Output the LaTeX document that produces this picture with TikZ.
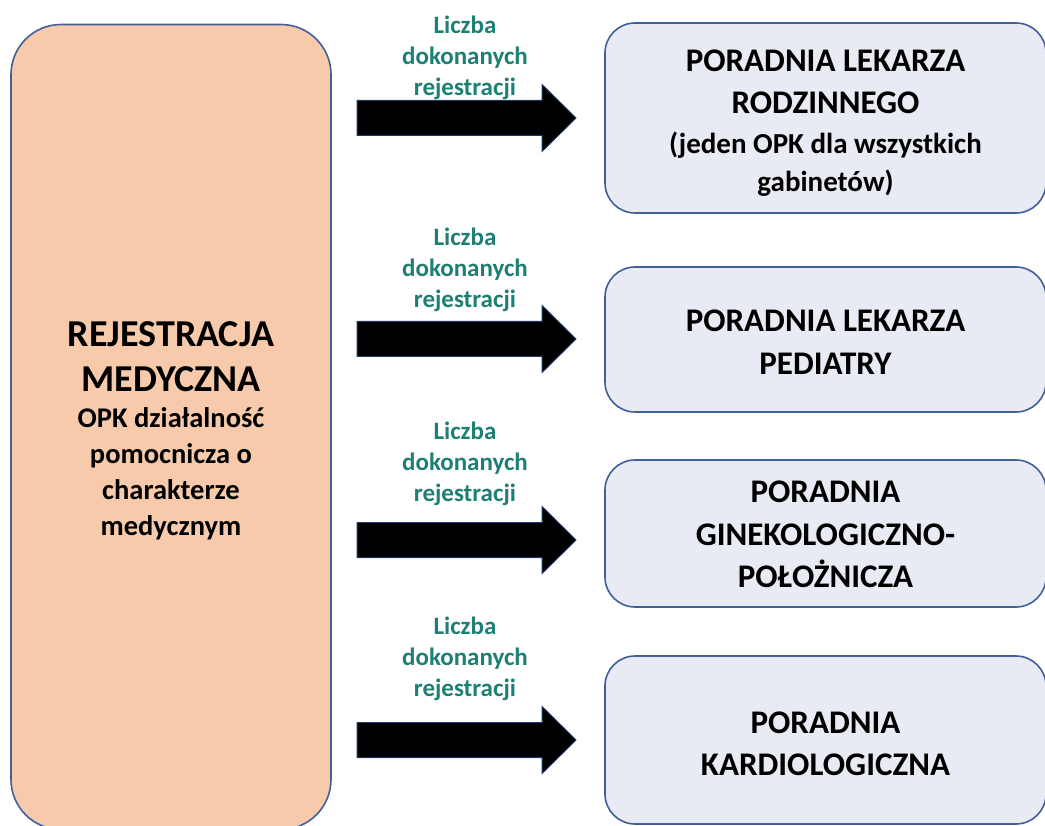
\documentclass[tikz,border=0pt]{standalone}
\usepackage{fontspec}
\setmainfont{Carlito}
\definecolor{peach}{HTML}{F7CAAB}
\definecolor{boxline}{HTML}{41609A}
\definecolor{lightbox}{HTML}{E8EAF4}
\definecolor{labelteal}{HTML}{1E7F74}
\definecolor{arrowline}{HTML}{1F3864}
\begin{document}
\begin{tikzpicture}[x=1pt,y=-1pt,
  leftbox/.style={draw=boxline, line width=1.6pt, fill=peach, rounded corners=50pt,
    minimum width=320pt, minimum height=805pt, align=center, inner sep=0pt},
  lefttext/.style={align=center, inner sep=0pt, font=\bfseries\fontsize{28.5}{36}\selectfont},
  rightbox/.style={draw=boxline, line width=1.6pt, fill=lightbox, rounded corners=30pt,
    minimum width=441pt, inner sep=0pt},
  boxtext/.style={align=center, inner sep=0pt, font=\bfseries\fontsize{33}{42.5}\selectfont},
  lbl/.style={text=labelteal, font=\bfseries\fontsize{25}{31}\selectfont, align=center, inner sep=0pt},
  barrow/.style={fill=black, draw=arrowline, line width=1pt, line join=miter}]
\useasboundingbox (0,0) rectangle (1045,826);

\node[leftbox] (reg) at (171,427) {};
\node[lefttext] (regt) at ([yshift=-4pt]reg.center) {{\fontsize{38}{47}\selectfont REJESTRACJA}\\[9pt]
  {\fontsize{38}{47}\selectfont MEDYCZNA}\\
  OPK działalność\\pomocnicza o\\charakterze\\medycznym};

\node[rightbox, minimum height=190pt] (p1) at (825.5,118) {};
\node[boxtext] (t1) at ([yshift=-5pt]p1.center) {PORADNIA LEKARZA\\RODZINNEGO\\[-3pt]
  {\fontsize{29}{38}\selectfont (jeden OPK dla wszystkich}\\[-4.5pt]
  {\fontsize{29}{38}\selectfont gabinetów)}};
\node[rightbox, minimum height=145pt] (p2) at (825.5,339.5) {};
\node[boxtext] (t2) at ([yshift=-2.5pt]p2.center) {PORADNIA LEKARZA\\PEDIATRY};
\node[rightbox, minimum height=147pt] (p3) at (825.5,533.5) {};
\node[boxtext] (t3) at ([yshift=-1pt]p3.center) {PORADNIA\\GINEKOLOGICZNO-\\POŁOŻNICZA};
\node[rightbox, minimum height=168pt] (p4) at (825.5,740) {};
\node[boxtext] (t4) at ([yshift=-4pt]p4.center) {PORADNIA\\KARDIOLOGICZNA};

\node[lbl] (l1) at (465,58) {Liczba\\dokonanych\\rejestracji};
\node[lbl] (l2) at (465,270) {Liczba\\dokonanych\\rejestracji};
\node[lbl] (l3) at (465,464) {Liczba\\dokonanych\\rejestracji};
\node[lbl] (l4) at (465,659) {Liczba\\dokonanych\\rejestracji};

\foreach \c in {118,339,540,740}{
  \draw[barrow] (357,{\c-17.5}) -- (542,{\c-17.5}) -- (542,{\c-33.5}) -- (576,\c)
    -- (542,{\c+33.5}) -- (542,{\c+17.5}) -- (357,{\c+17.5}) -- cycle;
}
\end{tikzpicture}
\end{document}
